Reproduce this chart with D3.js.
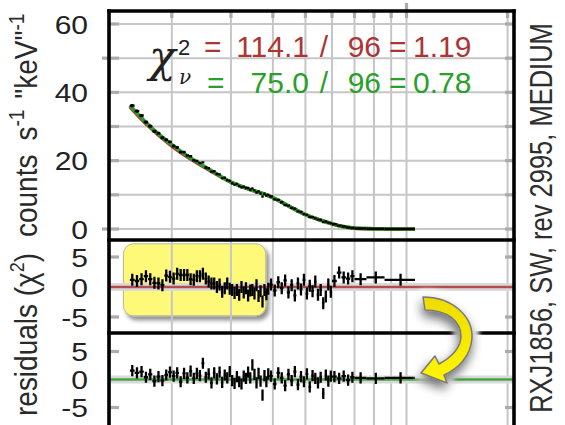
<!DOCTYPE html>
<html>
<head>
<meta charset="utf-8">
<script src="https://cdn.jsdelivr.net/npm/d3@7"></script>
<style>
  html, body { margin: 0; padding: 0; background: #fff; }
  svg { display: block; }
</style>
</head>
<body>
<svg id="chart" width="565" height="425"></svg>
<script>
// ---- spectrum: channel grouping (keV bin edges) ----
const binEdges = [
  0.150,0.155,0.160,0.165,0.170,0.175,0.180,0.185,0.190,0.195,
  0.200,0.205,0.210,0.215,0.220,0.225,0.230,0.235,0.240,0.245,
  0.250,0.255,0.260,0.265,0.270,0.275,0.280,0.285,0.290,0.295,
  0.300,0.305,0.310,0.315,0.320,0.325,0.330,0.335,0.340,0.345,
  0.350,0.355,0.360,0.365,0.370,0.375,0.380,0.385,0.390,
  0.40,0.41,0.42,0.43,0.44,0.45,0.46,0.47,0.48,0.49,
  0.50,0.51,0.52,0.53,0.54,0.55,0.56,0.57,0.58,0.59,0.60,
  0.62,0.64,0.66,0.68,0.70,
  0.76,0.86,1.06
];

// observed rate per bin (counts s^-1 keV^-1) and 1-sigma error
const counts = [
  36.1,34.5,33.2,31.3,30.1,28.6,28.0,26.7,26.1,25.5,
  24.3,23.9,22.5,22.5,21.5,21.3,20.1,19.9,19.3,19.5,
  18.0,17.8,16.8,16.9,16.1,16.0,14.9,15.0,14.3,14.1,
  13.4,13.0,13.2,12.6,12.2,12.4,12.0,12.0,11.5,11.9,
  11.3,10.7,11.0,10.4,9.5,10.3,9.8,10.0,
  9.51,8.66,8.52,7.85,7.01,6.84,6.17,5.91,5.16,4.97,
  4.34,4.13,3.53,3.48,3.12,2.73,2.64,2.05,2.18,1.87,1.70,
  1.38,0.99,0.71,0.46,0.31,
  0.145,0.062,0.021
];
const countErr = [
  0.50,0.49,0.48,0.47,0.46,0.45,0.44,0.44,0.43,0.42,
  0.41,0.41,0.40,0.40,0.39,0.38,0.38,0.37,0.37,0.36,
  0.36,0.35,0.35,0.34,0.34,0.33,0.33,0.32,0.32,0.31,
  0.31,0.31,0.30,0.30,0.30,0.29,0.29,0.29,0.28,0.28,
  0.28,0.28,0.27,0.27,0.27,0.27,0.26,0.26,
  0.19,0.18,0.18,0.17,0.17,0.16,0.16,0.15,0.15,0.14,
  0.14,0.13,0.13,0.12,0.12,0.11,0.11,0.10,0.10,0.10,0.09,
  0.06,0.05,0.05,0.04,0.03,
  0.015,0.008,0.004
];

// residuals in units of sigma for the two fits
const residRed = [
  1.2,1.0,1.3,1.8,1.3,0.7,0.6,0.3,1.9,1.7,
  1.4,2.2,2.0,2.0,2.0,1.3,1.2,1.8,1.8,2.2,
  1.4,0.9,0.6,0.6,0.0,0.4,-0.8,-0.2,0.6,-0.3,
  -0.5,-1.0,-0.5,-1.3,0.0,-0.9,-0.2,-1.4,-0.6,-0.5,
  -1.1,0.3,-1.5,-0.7,-2.4,-0.5,-1.2,-0.3,
  0.4,-0.6,0.8,-0.2,1.1,-0.9,0.3,-1.4,0.6,-0.4,
  1.2,-1.1,0.2,-0.7,0.9,-1.3,-0.5,-2.7,-1.6,0.4,-0.8,
  1.0,2.4,1.6,1.4,1.8,
  1.3,1.6,1.2
];
const residGreen = [
  1.6,1.2,1.4,0.4,0.9,-0.3,0.5,-0.2,0.8,1.3,
  0.6,1.2,-0.4,1.1,0.3,1.5,0.2,1.1,0.7,2.9,
  0.4,1.0,-0.6,1.2,0.1,1.3,-0.5,0.8,0.3,1.4,
  -0.2,-0.7,0.5,-0.4,-0.8,0.6,0.2,1.3,0.3,2.6,
  0.9,-0.6,1.1,-0.3,-2.8,0.7,-0.4,1.0,
  0.6,-0.8,1.2,0.3,-1.1,0.9,-0.2,1.4,-0.9,0.5,
  -0.4,1.0,-1.3,0.7,0.2,-0.6,0.4,-2.5,0.8,-0.3,0.6,
  0.5,0.2,0.6,-0.1,0.4,
  0.3,0.2,0.3
];

// folded model curves
const modelEnergy = [0.150,0.170,0.200,0.230,0.260,0.300,0.340,0.380,0.400,0.450,0.500,0.550,0.600,0.650,0.700,0.760,0.860,1.060];
const modelRed    = [35.8,30.2,24.3,20.2,17.1,13.7,11.6,10.1,9.15,6.5,4.22,2.72,1.52,0.64,0.25,0.10,0.036,0.009];
const modelGreen  = [36.2,30.6,24.7,20.5,17.35,13.75,11.65,10.1,9.2,6.5,4.22,2.72,1.56,0.69,0.28,0.11,0.04,0.01];

// fit statistics
const chiSquare = [114.1, 75.0];
const dof = [96, 96];
const fitColors = ["#ad3434", "#2a9f2a"];

// axes
const countTicks = [0, 20, 40, 60];
const countGrid = [0, 10, 20, 30, 40, 50, 60];
const countMajor = [0, 50];
const residTicks = [-5, 0, 5];
const residStubs = [-5, 5];
const energyGrid = [0.2, 0.3, 0.4, 0.5, 0.6, 0.7, 0.8, 0.9, 1.0, 2.0];
const sideLabel = "RXJ1856, SW, rev 2995, MEDIUM";

// highlighted residual stretch (keV, sigma)
const highlightEnergy = [0.1435, 0.381];
const highlightChi = [7.2, -4.8];

// ---- layout ----
const L = 109, R = 514;
const p1 = [10, 240], p2 = [240, 333];
const FONT = "'Liberation Sans', Arial, Helvetica, sans-serif";

const svg = d3.select("#chart");
svg.append("rect").attr("width", 565).attr("height", 425).attr("fill", "#fff");

const x  = d3.scaleLog().domain([0.13, 2.09]).range([L, R]);
const yC = d3.scaleLinear().domain([0, 60]).range([229, 24]);
const yR1 = d3.scaleLinear().domain([-5, 5]).range([317, 257]);
const yR2 = d3.scaleLinear().domain([-5, 5]).range([407.5, 351.5]);

// ---- filters ----
const defs = svg.append("defs");
function shadowFilter(id, blur, dx, dy, alpha) {
  const f = defs.append("filter").attr("id", id)
    .attr("x", "-40%").attr("y", "-40%").attr("width", "180%").attr("height", "180%");
  f.append("feGaussianBlur").attr("in", "SourceAlpha").attr("stdDeviation", blur).attr("result", "b");
  f.append("feOffset").attr("in", "b").attr("dx", dx).attr("dy", dy).attr("result", "o");
  f.append("feComponentTransfer").attr("in", "o").attr("result", "s")
    .append("feFuncA").attr("type", "linear").attr("slope", alpha);
  const m = f.append("feMerge");
  m.append("feMergeNode").attr("in", "s");
  m.append("feMergeNode").attr("in", "SourceGraphic");
}
shadowFilter("boxShadow", 2.2, 3, 4, 0.45);
shadowFilter("arrowShadow", 5.5, -1, 6, 0.6);
defs.append("filter").attr("id", "soft")
  .attr("x", "-40%").attr("y", "-40%").attr("width", "180%").attr("height", "180%")
  .append("feGaussianBlur").attr("stdDeviation", 2.5);
const grad = defs.append("linearGradient").attr("id", "arrowFill")
  .attr("x1", "0").attr("y1", "0").attr("x2", "0").attr("y2", "1");
grad.append("stop").attr("offset", "0").attr("stop-color", "#eedc00");
grad.append("stop").attr("offset", "1").attr("stop-color", "#fff600");

// ---- highlight box behind the first residual panel ----
svg.append("rect")
  .attr("x", x(highlightEnergy[0])).attr("y", yR1(highlightChi[0]))
  .attr("width", x(highlightEnergy[1]) - x(highlightEnergy[0]))
  .attr("height", yR1(highlightChi[1]) - yR1(highlightChi[0]))
  .attr("rx", 10).attr("ry", 10)
  .attr("fill", "#fff979").attr("stroke", "#b9b79a").attr("stroke-width", 1)
  .attr("filter", "url(#boxShadow)");

// ---- grid ----
const grid = svg.append("g").attr("stroke", "#c6c6c6").attr("stroke-width", 2).attr("fill", "none");
grid.selectAll("line.v").data(energyGrid).join("line").attr("class", "v")
  .attr("x1", d => x(d)).attr("x2", d => x(d)).attr("y1", p1[0]).attr("y2", 425);
grid.selectAll("line.h").data(countGrid).join("line").attr("class", "h")
  .attr("x1", L).attr("x2", R).attr("y1", d => yC(d)).attr("y2", d => yC(d));

// tick stubs on the frame
const stubs = svg.append("g").attr("stroke", "#ababab").attr("stroke-width", 3.2);
countGrid.forEach(v => {
  const major = countMajor.includes(v);
  stubs.append("line").attr("x1", major ? L - 7 : L).attr("x2", L + 10).attr("y1", yC(v)).attr("y2", yC(v));
  stubs.append("line").attr("x1", R - 9).attr("x2", R).attr("y1", yC(v)).attr("y2", yC(v));
});
[yR1, yR2].forEach(s => residStubs.forEach(v => {
  stubs.append("line").attr("x1", L).attr("x2", L + 10).attr("y1", s(v)).attr("y2", s(v));
  stubs.append("line").attr("x1", R - 9).attr("x2", R).attr("y1", s(v)).attr("y2", s(v));
}));
energyGrid.forEach(e => {
  stubs.append("line").attr("x1", x(e)).attr("x2", x(e)).attr("y1", p1[0]).attr("y2", p1[0] + 8);
});
stubs.append("line").attr("x1", x(1.0)).attr("x2", x(1.0)).attr("y1", 3).attr("y2", p1[0]);

// ---- zero lines of the residual panels ----
[[yR1, fitColors[0]], [yR2, fitColors[1]]].forEach(([s, col]) => {
  svg.append("line").attr("x1", L).attr("x2", R).attr("y1", s(0)).attr("y2", s(0))
    .attr("stroke", "#dadada").attr("stroke-width", 8);
  svg.append("line").attr("x1", L).attr("x2", R).attr("y1", s(0)).attr("y2", s(0))
    .attr("stroke", col).attr("stroke-width", 2.6).attr("opacity", 0.85);
});

// ---- spectrum panel ----
const bins = counts.map((c, i) => ({
  lo: binEdges[i], hi: binEdges[i + 1], mid: (binEdges[i] + binEdges[i + 1]) / 2,
  c, e: countErr[i], r1: residRed[i], r2: residGreen[i]
}));

const modelLine = d3.line().x(d => x(d[0])).y(d => yC(d[1])).curve(d3.curveMonotoneX);
[[modelRed, fitColors[0]], [modelGreen, fitColors[1]]].forEach(([m, col]) => {
  svg.append("path").attr("d", modelLine(modelEnergy.map((e, i) => [e, m[i]])))
    .attr("fill", "none").attr("stroke", col).attr("stroke-width", 3.6);
});

svg.append("g").attr("stroke", "#000").attr("stroke-width", 2.4).attr("fill", "none")
  .selectAll("path").data(bins).join("path")
  .attr("d", b => `M${x(b.lo)},${yC(b.c)}H${x(b.hi)}M${x(b.mid)},${yC(b.c - b.e)}V${yC(b.c + b.e)}`);

// ---- residual panels ----
function residuals(scale, key) {
  svg.append("g").attr("stroke", "#000").attr("stroke-width", 2.3).attr("fill", "none")
    .selectAll("path").data(bins).join("path")
    .attr("d", b => `M${x(b.lo)},${scale(b[key])}H${x(b.hi)}M${x(b.mid)},${scale(b[key] - 1)}V${scale(b[key] + 1)}`);
}
residuals(yR1, "r1");
residuals(yR2, "r2");

// ---- frame ----
const frame = svg.append("g").attr("stroke", "#000").attr("stroke-width", 3.6).attr("stroke-linecap", "square");
frame.append("line").attr("x1", L).attr("x2", R).attr("y1", p1[0] + 1).attr("y2", p1[0] + 1);
frame.append("line").attr("x1", L).attr("x2", L).attr("y1", p1[0] + 1).attr("y2", 430);
frame.append("line").attr("x1", R).attr("x2", R).attr("y1", p1[0] + 1).attr("y2", 430);
frame.append("line").attr("x1", L).attr("x2", R).attr("y1", p1[1]).attr("y2", p1[1]);
frame.append("line").attr("x1", L).attr("x2", R).attr("y1", p2[1]).attr("y2", p2[1]);

// ---- tick labels ----
function tickLabels(scale, values) {
  const g = svg.append("g").attr("transform", `translate(${L},0)`)
    .call(d3.axisLeft(scale).tickValues(values).tickSize(0).tickFormat(d => String(d)));
  g.select(".domain").remove();
  g.selectAll("text")
    .attr("x", 0).attr("dy", "0.36em")
    .attr("transform", "translate(-21,0) scale(1.2,1)")
    .style("font-family", FONT).style("font-size", "25px").attr("fill", "#222");
}
tickLabels(yC, countTicks);
tickLabels(yR1, residTicks);
tickLabels(yR2, residTicks);

// ---- axis titles ----
const yTitle = svg.append("text")
  .attr("transform", "translate(37,237) rotate(-90) scale(1,1.15)")
  .style("font-family", FONT).style("font-size", "28px").attr("fill", "#2a2a2a");
yTitle.append("tspan").text("counts");
yTitle.append("tspan").attr("dx", 14).text("s");
yTitle.append("tspan").attr("dy", -11).style("font-size", "19px").text("-1");
yTitle.append("tspan").attr("dy", 11).attr("dx", 11).text("\"keV\"");
yTitle.append("tspan").attr("dy", -11).style("font-size", "19px").text("-1");

const rTitle = svg.append("text")
  .attr("transform", "translate(37,416) rotate(-90) scale(1,1.15)")
  .style("font-family", FONT).style("font-size", "28px").attr("fill", "#2a2a2a");
rTitle.append("tspan").text("residuals (\u03c7");
rTitle.append("tspan").attr("dy", -11).style("font-size", "18px").text("2");
rTitle.append("tspan").attr("dy", 11).text(")");

// observation label on the right
svg.append("text")
  .attr("transform", "translate(552,218) rotate(-90) scale(1,1.22)")
  .attr("text-anchor", "middle")
  .style("font-family", FONT).style("font-size", "25.5px").attr("fill", "#2e2e2e")
  .text(sideLabel);

// ---- reduced chi-square annotation ----
const chiG = svg.append("g").attr("fill", "#222");
chiG.append("text").attr("x", 149).attr("y", 72)
  .style("font-family", "'DejaVu Serif', 'Liberation Serif', serif").style("font-style", "italic")
  .style("font-size", "44px").text("\u03c7");
chiG.append("text").attr("x", 178).attr("y", 55)
  .style("font-family", FONT).style("font-size", "22px").text("2");
chiG.append("text").attr("x", 179).attr("y", 84)
  .style("font-family", "'DejaVu Serif', 'Liberation Serif', serif").style("font-style", "italic")
  .style("font-size", "20px").text("\u03bd");

const rowBase = [57, 93];
const eqStart = [204, 207];
chiSquare.forEach((chi, i) => {
  const g = svg.append("g").attr("fill", fitColors[i])
    .style("font-family", FONT).style("font-size", "30px");
  const yb = rowBase[i];
  g.append("text").attr("x", eqStart[i]).attr("y", yb).text("=");
  g.append("text").attr("x", 309).attr("y", yb).attr("text-anchor", "end").text(chi.toFixed(1));
  g.append("text").attr("x", 324).attr("y", yb).attr("text-anchor", "middle").text("/");
  g.append("text").attr("x", 381).attr("y", yb).attr("text-anchor", "end").text(String(dof[i]));
  g.append("text").attr("x", 389).attr("y", yb).text("=");
  g.append("text").attr("x", 413).attr("y", yb).text((chi / dof[i]).toFixed(2));
});

// ---- curved arrow from the first fit's residuals to the second's ----
const arrowPath = "M423,297 C452,297 473,316 472,338 C471,356 458,369 444,375 L447,383 L421,373 L435,356 L439,364 C450,358 460,350 461,337 C461,321 447,310 425,310 Z";
svg.append("path").attr("d", arrowPath)
  .attr("fill", "#fff").attr("stroke", "#fff").attr("stroke-width", 14)
  .attr("stroke-linejoin", "round").attr("filter", "url(#soft)");
svg.append("path").attr("d", arrowPath)
  .attr("fill", "url(#arrowFill)").attr("stroke", "#7a7a7a").attr("stroke-width", 1.6)
  .attr("stroke-linejoin", "round").attr("filter", "url(#arrowShadow)");
</script>
</body>
</html>
